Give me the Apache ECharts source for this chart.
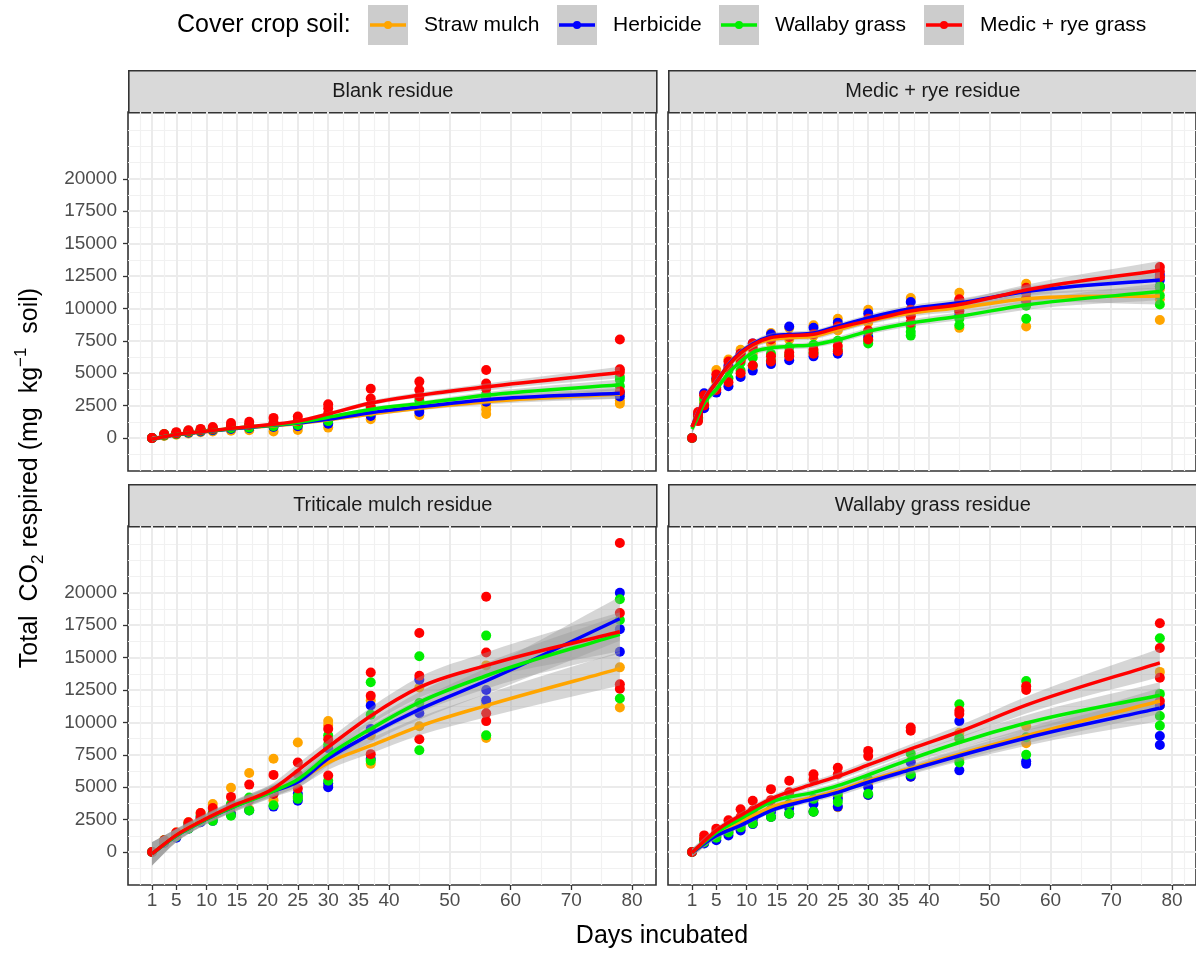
<!DOCTYPE html>
<html>
<head>
<meta charset="utf-8">
<script src="https://cdn.jsdelivr.net/npm/echarts@6/dist/echarts.min.js"></script>
<style>
  html, body { margin: 0; padding: 0; background: #ffffff; }
  #chart { width: 1196px; height: 953px; }
</style>
</head>
<body>
<div id="chart"></div>
<script>
// ---- Treatments, colours, facets ----
const TREATMENTS = ['Straw mulch', 'Herbicide', 'Wallaby grass', 'Medic + rye grass'];
const COLORS = ['#FFA500', '#0000FF', '#00EE00', '#FF0000'];
const PANELS = ['Blank residue', 'Medic + rye residue', 'Triticale mulch residue', 'Wallaby grass residue'];

// ---- Axis breaks ----
const X_TICKS = [1, 5, 10, 15, 20, 25, 30, 35, 40, 50, 60, 70, 80];
const X_MINOR = [-1, 3, 7.5, 12.5, 17.5, 22.5, 27.5, 32.5, 37.5, 45, 55, 65, 75, 82];
const Y_TICKS = [0, 2500, 5000, 7500, 10000, 12500, 15000, 17500, 20000];
const Y_MINOR = [-1250, 1250, 3750, 6250, 8750, 11250, 13750, 16250, 18750, 21250, 22500, 23750];

// ---- Sampling days ----
const DAYS = [1, 3, 5, 7, 9, 11, 14, 17, 21, 25, 30, 37, 45, 56, 78];
const DAYS_MEDIC = [1, 2, 3, 5, 7, 9, 11, 14, 17, 21, 25, 30, 37, 45, 56, 78];
const FIT_DAYS = [1, 5, 9, 14, 21, 25, 30, 37, 45, 56, 78];

// ---- Replicate observations (mg CO2 per kg soil), one inner list per day ----
// Blank residue
const BLANK_STRAW = [[0,0],[150,250],[250,350],[350,500],[450,600],[500,700],[550,800],[600,900],[500,900],[620,1000],[800,1150],[1450,1750],[1750,2150],[1850,2200,2500],[2650,2900,3400]];
const BLANK_HERB = [[0,0],[200,250],[300,350],[400,500],[500,600],[600,700],[700,850],[750,950],[850,1050],[900,1150],[1100,1400],[1700,2000],[2000,2450],[2800,3000],[3200,3500]];
const BLANK_WALLABY = [[0,0],[200,300],[300,400],[450,550],[550,650],[650,750],[750,950],[800,1000],[900,1100],[1000,1300],[1300,1700],[2000,2400],[2500,2900],[3100,3400],[4000,4500,4700]];
const BLANK_MEDIC = [[0,0],[250,300],[350,450],[500,600],[600,700],[700,850],[900,1150],[1000,1250],[1200,1550],[1300,1650],[1900,2300,2600],[2400,3050,3800],[3200,3700,4350],[3800,4200,5250],[3600,5100,5300,7600]];
// Medic + rye residue
const MEDIC_STRAW = [[0],[1600,1900],[2800,3400],[4300,5250],[5400,6050],[6000,6800],[6500,7100],[7300,8100],[7600,8500],[7900,8700],[8300,9200],[8900,9900],[9500,10800],[8500,10300,11200],[8600,10500,11900],[9100,10700,11500]];
const MEDIC_HERB = [[0],[1500,1800],[2300,3450],[3500,4600],[4000,5600],[4700,6500],[5200,7300],[5700,8000],[6000,8600],[6300,8500],[6500,8900],[7800,9600],[8900,10500],[9500,10600],[10600,11200],[11700,12200,12600]];
const MEDIC_WALLABY = [[0],[1400,1600],[2600,3000],[3900,4500],[4600,5200],[5200,5800],[5600,6200],[6000,6500],[6400,7000],[6600,7200],[6800,7500],[7300,7500,8200],[7900,8200,8600],[8700,9200,9800],[9200,10200,10800],[10300,11000,11700]];
const MEDIC_MEDIC = [[0],[1300,1700,2000],[2500,3300],[3700,4500,4900],[4300,5400,5900],[5000,6000,6500],[5600,6900,7300],[5900,6300,7600],[6300,6600,7800],[6500,6800,8000],[6700,7100,8600],[7600,8300,9200],[8900,9400,9900],[9800,10300,10700],[10700,11200,11600],[12400,12850,13200]];
// Triticale mulch residue
const TRIT_STRAW = [[0],[700,900],[1200,1500],[1900,2300],[2500,3000],[2700,3700],[3000,4950],[3300,6100],[4000,7200],[4200,8450],[5100,9800,10100],[6800,9000,11700],[9700,12700],[8800,11400,14400],[11150,14250]];
const TRIT_HERB = [[0],[700,800],[1100,1400],[1800,2100],[2300,2700],[2400,3000],[2900,3600],[3200,4100],[3500,4500],[3950,4500],[5000,5300,8000],[7200,9500,11300],[10700,13300],[11700,12500],[15450,17200,20000]];
const TRIT_WALLABY = [[0],[800,900],[1200,1400],[1800,2200],[2400,2800],[2400,3000],[2800,3700],[3200,4200],[3600,4700],[4100,4300],[5500,8300,9000],[7050,10600,13100],[7850,11500,15100],[9000,16700],[11850,17900,19500]];
const TRIT_MEDIC = [[0],[800,900],[1300,1500],[2000,2300],[2600,3000],[2900,3400],[3500,4250],[4000,5200],[4500,5950],[4900,6000,6900],[5900,8700,9500],[7550,12050,13850],[8700,13600,16900],[10100,10700,15400,19700],[12600,12950,18450,23850]];
// Wallaby grass residue
const WALL_STRAW = [[0],[700,900],[1100,1300],[1500,1800],[1800,2200],[2200,2600],[2700,3200],[2950,3600],[3100,4000],[3450,4300],[4400,5300],[5800,7000],[7100,8700,9200],[8400,9700],[11300,13900]];
const WALL_HERB = [[0],[650,800],[900,1200],[1280,1700],[1650,2100],[2150,2500],[2700,3100],[2950,3400],[3100,3700],[3500,4100],[4400,5000],[5800,6900],[6300,10100],[6800,7000],[8250,8950,11300]];
const WALL_WALLABY = [[0],[750,950],[1100,1400],[1500,1900],[1900,2300],[2200,2700],[2700,3300],[2950,3700],[3100,4100],[3850,4500],[4500,5600],[6000,7600],[6900,8800,11400],[7500,8850,13200],[9750,10500,12200,16500]];
const WALL_MEDIC = [[0],[1000,1280],[1500,1800],[2000,2450],[2700,3300],[3200,3950],[4000,4850],[4600,5500],[5600,6000],[6000,6500],[7400,7800],[9350,9600],[10650,10900],[12500,12800],[11650,13450,15750,17650]];

// ---- Smoothed fits (loess) and their standard-error half widths ----
const BLANK_FIT = [
  [-80, 250, 450, 700, 950, 1120, 1400, 1850, 2300, 2800, 3400],
  [-80, 250, 450, 700, 980, 1150, 1450, 1950, 2400, 2950, 3450],
  [-80, 260, 470, 720, 1000, 1200, 1600, 2200, 2650, 3300, 4100],
  [-80, 260, 480, 740, 1050, 1300, 1850, 2700, 3300, 3950, 5050]
];
const BLANK_SE = [
  [180, 120, 100, 100, 110, 120, 130, 150, 170, 220, 380],
  [180, 120, 100, 100, 110, 120, 130, 150, 170, 230, 400],
  [180, 120, 100, 100, 110, 120, 130, 150, 180, 240, 420],
  [200, 130, 110, 110, 120, 130, 150, 170, 200, 260, 450]
];
const MEDIC_FIT = [
  [850, 1900, 2900, 4250, 5600, 6500, 7150, 7600, 7750, 7850, 8350, 9000, 9650, 10050, 10750, 10950],
  [850, 1950, 2950, 4300, 5650, 6600, 7250, 7850, 7980, 8100, 8620, 9270, 9970, 10430, 11300, 12200],
  [700, 1700, 2700, 3750, 5000, 5900, 6600, 6950, 7070, 7200, 7580, 8230, 8880, 9400, 10260, 11300],
  [850, 1950, 2950, 4300, 5600, 6550, 7200, 7750, 7900, 8000, 8500, 9050, 9800, 10300, 11420, 12950]
];
const MEDIC_SE = [
  [450, 380, 330, 290, 270, 250, 240, 230, 230, 230, 240, 250, 270, 310, 370, 650],
  [450, 380, 330, 290, 270, 250, 240, 230, 230, 230, 240, 250, 270, 310, 370, 650],
  [450, 380, 330, 290, 270, 250, 240, 230, 230, 230, 240, 250, 270, 310, 370, 650],
  [500, 400, 350, 300, 280, 260, 250, 240, 240, 240, 250, 260, 290, 330, 400, 700]
];
const TRIT_FIT = [
  [-150, 1300, 2350, 3450, 4800, 5500, 6900, 8200, 9700, 11300, 14150],
  [-150, 1250, 2300, 3400, 4700, 5400, 7200, 9100, 11000, 13200, 18000],
  [-150, 1250, 2300, 3400, 4700, 5600, 7450, 9500, 11550, 13600, 16800],
  [-150, 1300, 2350, 3500, 4900, 6300, 8100, 10500, 12700, 14400, 17000]
];
const TRIT_SE = [
  [900, 500, 400, 400, 450, 500, 550, 600, 700, 900, 1300],
  [900, 500, 400, 400, 450, 500, 550, 650, 800, 1000, 1700],
  [900, 500, 400, 400, 450, 500, 550, 650, 800, 1000, 1500],
  [900, 500, 400, 400, 450, 500, 550, 650, 800, 1000, 1500]
];
const WALL_FIT = [
  [-50, 1300, 2300, 3450, 4230, 4740, 5500, 6450, 7550, 8970, 11650],
  [-50, 1250, 2050, 3200, 4100, 4600, 5380, 6350, 7430, 8800, 11100],
  [-50, 1500, 2560, 3850, 4600, 5120, 5950, 7170, 8450, 9950, 12100],
  [-50, 1650, 2820, 4100, 5250, 5840, 6720, 7950, 9280, 11330, 14600]
];
const WALL_SE = [
  [300, 250, 220, 220, 250, 270, 300, 350, 450, 600, 1000],
  [300, 250, 220, 220, 250, 270, 300, 350, 450, 600, 1000],
  [300, 250, 220, 220, 250, 270, 300, 350, 450, 600, 1000],
  [320, 260, 230, 230, 260, 280, 320, 370, 480, 650, 1100]
];

const FACETS = [
  { days: DAYS, points: [BLANK_STRAW, BLANK_HERB, BLANK_WALLABY, BLANK_MEDIC], fitDays: FIT_DAYS, fit: BLANK_FIT, se: BLANK_SE },
  { days: DAYS_MEDIC, points: [MEDIC_STRAW, MEDIC_HERB, MEDIC_WALLABY, MEDIC_MEDIC], fitDays: DAYS_MEDIC, fit: MEDIC_FIT, se: MEDIC_SE },
  { days: DAYS, points: [TRIT_STRAW, TRIT_HERB, TRIT_WALLABY, TRIT_MEDIC], fitDays: FIT_DAYS, fit: TRIT_FIT, se: TRIT_SE },
  { days: DAYS, points: [WALL_STRAW, WALL_HERB, WALL_WALLABY, WALL_MEDIC], fitDays: FIT_DAYS, fit: WALL_FIT, se: WALL_SE }
];

// ---- Layout ----
const FONT = '"Liberation Sans", Arial, Helvetica, sans-serif';
const X_RANGE = [-2.95, 83.95];
const Y_RANGE = [-2550, 25160];
const PANEL_W = 528, PANEL_H = 359, STRIP_H = 42;
const PANEL_POS = [
  { left: 128, top: 112 }, { left: 668, top: 112 },
  { left: 128, top: 526 }, { left: 668, top: 526 }
];

// Smooth cubic Hermite path through pixel points (x increasing)
function tangents(p) {
  const n = p.length, m = new Array(n);
  for (let i = 0; i < n; i++) {
    if (i === 0) m[i] = (p[1][1] - p[0][1]) / (p[1][0] - p[0][0]);
    else if (i === n - 1) m[i] = (p[n - 1][1] - p[n - 2][1]) / (p[n - 1][0] - p[n - 2][0]);
    else {
      const h0 = p[i][0] - p[i - 1][0], h1 = p[i + 1][0] - p[i][0];
      const d0 = (p[i][1] - p[i - 1][1]) / h0, d1 = (p[i + 1][1] - p[i][1]) / h1;
      m[i] = (h1 * d0 + h0 * d1) / (h0 + h1);
    }
  }
  return m;
}
function segs(p, m, backward) {
  let d = '';
  if (!backward) {
    for (let i = 0; i < p.length - 1; i++) {
      const h = (p[i + 1][0] - p[i][0]) / 3;
      d += ' C' + (p[i][0] + h) + ',' + (p[i][1] + m[i] * h) + ' ' +
        (p[i + 1][0] - h) + ',' + (p[i + 1][1] - m[i + 1] * h) + ' ' + p[i + 1][0] + ',' + p[i + 1][1];
    }
  } else {
    for (let i = p.length - 1; i > 0; i--) {
      const h = (p[i][0] - p[i - 1][0]) / 3;
      d += ' C' + (p[i][0] - h) + ',' + (p[i][1] - m[i] * h) + ' ' +
        (p[i - 1][0] + h) + ',' + (p[i - 1][1] + m[i - 1] * h) + ' ' + p[i - 1][0] + ',' + p[i - 1][1];
    }
  }
  return d;
}
function curvePath(p) {
  return 'M' + p[0][0] + ',' + p[0][1] + segs(p, tangents(p), false);
}
function ribbonPath(up, lo) {
  const n = lo.length;
  return 'M' + up[0][0] + ',' + up[0][1] + segs(up, tangents(up), false) +
    ' L' + lo[n - 1][0] + ',' + lo[n - 1][1] + segs(lo, tangents(lo), true) + ' Z';
}

const grids = [], xAxes = [], yAxes = [], series = [], graphics = [];

PANEL_POS.forEach((pos, gi) => {
  const bottomRow = gi >= 2, leftCol = gi % 2 === 0;
  grids.push({
    left: pos.left, top: pos.top, width: PANEL_W, height: PANEL_H,
    show: true, backgroundColor: '#ffffff', borderColor: '#333333', borderWidth: 1.6
  });
  // major breaks: ticks, labels, grid lines
  xAxes.push({
    type: 'value', gridIndex: gi, min: X_RANGE[0], max: X_RANGE[1], position: 'bottom',
    axisLine: { show: false, onZero: false },
    axisTick: { show: bottomRow, customValues: X_TICKS, length: 5, lineStyle: { color: '#333333', width: 1.3 } },
    axisLabel: { show: bottomRow, customValues: X_TICKS, color: '#4d4d4d', fontSize: 19, fontFamily: FONT, margin: 6,
      formatter: v => String(v) },
    splitLine: { show: true, lineStyle: { color: '#ebebeb', width: 2 } }
  });
  // minor breaks: grid lines only
  xAxes.push({
    type: 'value', gridIndex: gi, min: X_RANGE[0], max: X_RANGE[1], position: 'top',
    axisLine: { show: false, onZero: false },
    axisTick: { show: false, customValues: X_MINOR },
    axisLabel: { show: false, customValues: X_MINOR },
    splitLine: { show: true, lineStyle: { color: '#f1f1f1', width: 1.2 } }
  });
  yAxes.push({
    type: 'value', gridIndex: gi, min: Y_RANGE[0], max: Y_RANGE[1], position: 'left',
    axisLine: { show: false, onZero: false },
    axisTick: { show: leftCol, customValues: Y_TICKS, length: 5, lineStyle: { color: '#333333', width: 1.3 } },
    axisLabel: { show: leftCol, customValues: Y_TICKS, color: '#4d4d4d', fontSize: 19, fontFamily: FONT, margin: 11,
      formatter: v => String(v) },
    splitLine: { show: true, lineStyle: { color: '#ebebeb', width: 2 } }
  });
  yAxes.push({
    type: 'value', gridIndex: gi, min: Y_RANGE[0], max: Y_RANGE[1], position: 'right',
    axisLine: { show: false, onZero: false },
    axisTick: { show: false, customValues: Y_MINOR },
    axisLabel: { show: false, customValues: Y_MINOR },
    splitLine: { show: true, lineStyle: { color: '#f1f1f1', width: 1.2 } }
  });

  // facet strip
  graphics.push({
    type: 'group', left: pos.left, top: pos.top - STRIP_H,
    children: [
      { type: 'rect', shape: { x: 0, y: 0, width: PANEL_W, height: STRIP_H },
        style: { fill: '#d9d9d9', stroke: '#333333', lineWidth: 1.6 } },
      { type: 'text', x: PANEL_W / 2, y: STRIP_H / 2,
        style: { text: PANELS[gi], fill: '#1a1a1a', font: '20px ' + FONT, align: 'center', verticalAlign: 'middle' } }
    ]
  });

  const f = FACETS[gi];
  const xi = gi * 2, yi = gi * 2;

  // observations
  TREATMENTS.forEach((name, ti) => {
    const pts = [];
    f.points[ti].forEach((reps, di) => reps.forEach(v => pts.push([f.days[di], v])));
    series.push({
      type: 'scatter', name, xAxisIndex: xi, yAxisIndex: yi, data: pts,
      symbol: 'circle', symbolSize: 10, itemStyle: { color: COLORS[ti], opacity: 1 },
      z: 2, silent: true
    });
  });

  // confidence ribbons: fit +/- se, mapped through the grid's axes
  TREATMENTS.forEach((name, ti) => {
    const rows = f.fitDays.map((d, i) => [d, f.fit[ti][i], f.fit[ti][i] - f.se[ti][i], f.fit[ti][i] + f.se[ti][i]]);
    series.push({
      type: 'custom', xAxisIndex: xi, yAxisIndex: yi, data: rows, z: 3, silent: true,
      encode: { x: 0, y: [2, 3] },
      renderItem: (params, api) => {
        if (params.dataIndex !== 0) return null;
        const up = rows.map(r => api.coord([r[0], r[3]]));
        const lo = rows.map(r => api.coord([r[0], r[2]]));
        return { type: 'path', shape: { pathData: ribbonPath(up, lo) },
          style: { fill: 'rgba(153,153,153,0.4)', stroke: null } };
      }
    });
  });

  // fitted curves
  TREATMENTS.forEach((name, ti) => {
    const rows = f.fitDays.map((d, i) => [d, f.fit[ti][i]]);
    series.push({
      type: 'custom', name, xAxisIndex: xi, yAxisIndex: yi, data: rows, z: 4, silent: true,
      encode: { x: 0, y: 1 },
      renderItem: (params, api) => {
        if (params.dataIndex !== 0) return null;
        const pts = rows.map(r => api.coord(r));
        return { type: 'path', shape: { pathData: curvePath(pts) },
          style: { fill: null, stroke: COLORS[ti], lineWidth: 3.5, lineJoin: 'round', lineCap: 'butt' } };
      }
    });
  });
});

// ---- Legend ----
const LEGEND_BOX_X = [368, 557, 719, 924];
graphics.push({
  type: 'text', x: 177, y: 25,
  style: { text: 'Cover crop soil:', fill: '#000000', font: '25px ' + FONT, align: 'left', verticalAlign: 'middle' }
});
TREATMENTS.forEach((name, ti) => {
  const bx = LEGEND_BOX_X[ti];
  graphics.push({ type: 'rect', shape: { x: bx, y: 5, width: 40, height: 40 }, style: { fill: '#cccccc' } });
  graphics.push({ type: 'line', shape: { x1: bx + 2, y1: 25, x2: bx + 38, y2: 25 }, style: { stroke: COLORS[ti], lineWidth: 3.5 } });
  graphics.push({ type: 'circle', shape: { cx: bx + 20, cy: 25, r: 4 }, style: { fill: COLORS[ti] } });
  graphics.push({
    type: 'text', x: bx + 56, y: 25,
    style: { text: name, fill: '#000000', font: '21px ' + FONT, align: 'left', verticalAlign: 'middle' }
  });
});

// ---- Axis titles ----
graphics.push({
  type: 'text', x: 662, y: 936,
  style: { text: 'Days incubated', fill: '#000000', font: '25px ' + FONT, align: 'center', verticalAlign: 'middle' }
});
graphics.push({
  type: 'text', x: 30, y: 478, rotation: Math.PI / 2,
  style: {
    text: 'Total  CO{sub|2} respired (mg  kg{sup|\u22121}  soil)',
    fill: '#000000', font: '25px ' + FONT, align: 'center', verticalAlign: 'middle',
    lineHeight: 34,
    rich: {
      sub: { fontSize: 17, fontFamily: FONT, fill: '#000000', verticalAlign: 'bottom', lineHeight: 26 },
      sup: { fontSize: 17, fontFamily: FONT, fill: '#000000', verticalAlign: 'top', lineHeight: 26 }
    }
  }
});

const chart = echarts.init(document.getElementById('chart'), null, { renderer: 'canvas' });
chart.setOption({
  animation: false,
  backgroundColor: '#ffffff',
  grid: grids,
  xAxis: xAxes,
  yAxis: yAxes,
  series: series,
  graphic: graphics
});
</script>
</body>
</html>
